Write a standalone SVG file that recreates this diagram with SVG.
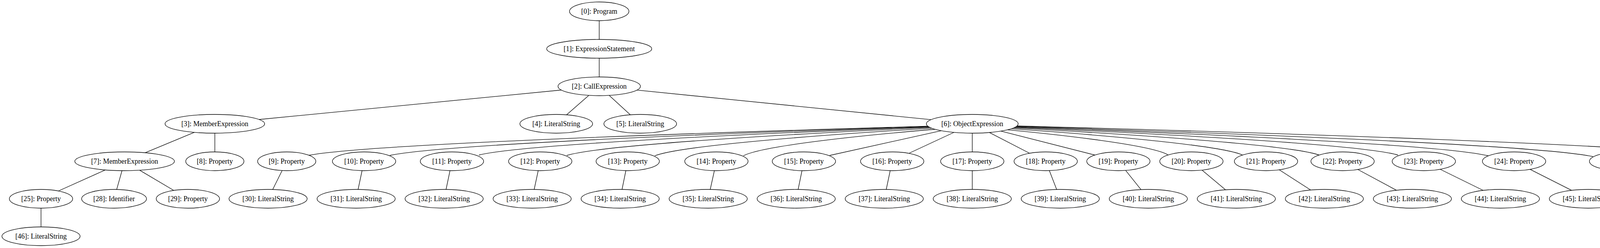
<svg xmlns="http://www.w3.org/2000/svg" width="4624" height="635" viewBox="0 0 4624 635">
<style>
.n ellipse{fill:none;stroke:#000;stroke-width:1.33}
.n text{font-family:"Liberation Serif","Times New Roman",serif;font-size:18px;fill:#000;text-anchor:middle}
#edges path{fill:none;stroke:#000;stroke-width:1.33}
</style>
<rect width="4624" height="635" fill="#fff"/>
<g id="edges">
<path d="M1534,53L1534,101"/>
<path d="M1534,149L1534,197"/>
<path d="M1437.1,230.5L663.2,306"/>
<path d="M1507.4,244.2L1450.4,294"/>
<path d="M1559.5,244.3L1613.7,293.9"/>
<path d="M1630.5,230.7L2383.6,306.4"/>
<path d="M497.4,338.9L371.6,391.1"/>
<path d="M550,341L550,389"/>
<path d="M269.7,435.1L149.6,489"/>
<path d="M312.3,437L298.7,485.1"/>
<path d="M357.6,435.9L444.8,487.5"/>
<path d="M105,533L105,581"/>
<path d="M2376,323.2C1853,338.1 949.5,367.8 791,397.5"/>
<path d="M2377,323.9C1922,338.7 1135.9,368.4 998,398"/>
<path d="M2379,325C1998.5,339.4 1341.3,368.2 1226,397"/>
<path d="M2381,326.4C2074.1,340.7 1544,369.4 1451,398"/>
<path d="M2386,328.3C2151.7,342.4 1747,370.7 1676,399"/>
<path d="M2394,331C2232,344.6 1952.1,371.8 1903,399"/>
<path d="M2410,334.6L2124,398"/>
<path d="M2442,339L2328,392"/>
<path d="M2489,341L2489,389"/>
<path d="M2533,339.3L2635,392"/>
<path d="M2562,335.7L2803,397"/>
<path d="M2579,332.4C2715,345.3 2949.8,371.2 2991,397"/>
<path d="M2588,329.7C2783.7,343.2 3121.7,370.1 3181,397"/>
<path d="M2594,327.6C2852.4,341.5 3298.7,369.2 3377,397"/>
<path d="M2597,326C2921.1,340.2 3480.8,368.6 3579,397"/>
<path d="M2600,324.7C2999.3,339.6 3689,369.3 3810,399"/>
<path d="M2602,323.5C3089.1,339 3930.4,370 4078,401"/>
<path d="M2603,322.4C3209.9,338.7 4258.1,371.4 4442,404"/>
<path d="M722.2,436.7L698.1,485.2"/>
<path d="M926.9,437L916.7,485"/>
<path d="M1152,437L1141.9,485"/>
<path d="M1377.8,437L1367.5,485"/>
<path d="M1602.2,437L1592.4,485"/>
<path d="M1828.8,437L1818.2,485"/>
<path d="M2053.1,437L2043.2,485"/>
<path d="M2278.9,437L2268.8,485"/>
<path d="M2489,437L2489,485"/>
<path d="M2686.3,436.8L2705,485.1"/>
<path d="M2881.7,436.4L2920.9,485.4"/>
<path d="M3077.1,435.6L3137.4,485.9"/>
<path d="M3274.9,434.8L3355.3,486.5"/>
<path d="M3476.1,434L3574.8,487.1"/>
<path d="M3686.9,433.5L3797,487.5"/>
<path d="M3917,433.7L4023.3,487.3"/>
<path d="M4182.4,435L4258.2,486.4"/>
<path d="M4517,437L4517,485"/>
</g>
<g id="node0" class="n"><ellipse cx="1534" cy="29" rx="76" ry="24"/><text x="1534" y="34.5">[0]: Program</text></g>
<g id="node1" class="n"><ellipse cx="1534" cy="125" rx="134.5" ry="24"/><text x="1534" y="130.5">[1]: ExpressionStatement</text></g>
<g id="node2" class="n"><ellipse cx="1534" cy="221" rx="105.5" ry="24"/><text x="1534" y="226.5">[2]: CallExpression</text></g>
<g id="node3" class="n"><ellipse cx="550" cy="317" rx="127.5" ry="24"/><text x="550" y="322.5">[3]: MemberExpression</text></g>
<g id="node4" class="n"><ellipse cx="1424" cy="317" rx="93" ry="24"/><text x="1424" y="322.5">[4]: LiteralString</text></g>
<g id="node5" class="n"><ellipse cx="1639" cy="317" rx="93" ry="24"/><text x="1639" y="322.5">[5]: LiteralString</text></g>
<g id="node6" class="n"><ellipse cx="2489" cy="317" rx="117.5" ry="24"/><text x="2489" y="322.5">[6]: ObjectExpression</text></g>
<g id="node7" class="n"><ellipse cx="319" cy="413" rx="127.5" ry="24"/><text x="319" y="418.5">[7]: MemberExpression</text></g>
<g id="node8" class="n"><ellipse cx="550" cy="413" rx="74.5" ry="24"/><text x="550" y="418.5">[8]: Property</text></g>
<g id="node9" class="n"><ellipse cx="734" cy="413" rx="74.5" ry="24"/><text x="734" y="418.5">[9]: Property</text></g>
<g id="node10" class="n"><ellipse cx="932" cy="413" rx="81" ry="24"/><text x="932" y="418.5">[10]: Property</text></g>
<g id="node11" class="n"><ellipse cx="1157" cy="413" rx="81" ry="24"/><text x="1157" y="418.5">[11]: Property</text></g>
<g id="node12" class="n"><ellipse cx="1383" cy="413" rx="81" ry="24"/><text x="1383" y="418.5">[12]: Property</text></g>
<g id="node13" class="n"><ellipse cx="1607" cy="413" rx="81" ry="24"/><text x="1607" y="418.5">[13]: Property</text></g>
<g id="node14" class="n"><ellipse cx="1834" cy="413" rx="81" ry="24"/><text x="1834" y="418.5">[14]: Property</text></g>
<g id="node15" class="n"><ellipse cx="2058" cy="413" rx="81" ry="24"/><text x="2058" y="418.5">[15]: Property</text></g>
<g id="node16" class="n"><ellipse cx="2284" cy="413" rx="81" ry="24"/><text x="2284" y="418.5">[16]: Property</text></g>
<g id="node17" class="n"><ellipse cx="2489" cy="413" rx="81" ry="24"/><text x="2489" y="418.5">[17]: Property</text></g>
<g id="node18" class="n"><ellipse cx="2677" cy="413" rx="81" ry="24"/><text x="2677" y="418.5">[18]: Property</text></g>
<g id="node19" class="n"><ellipse cx="2863" cy="413" rx="81" ry="24"/><text x="2863" y="418.5">[19]: Property</text></g>
<g id="node20" class="n"><ellipse cx="3050" cy="413" rx="81" ry="24"/><text x="3050" y="418.5">[20]: Property</text></g>
<g id="node21" class="n"><ellipse cx="3241" cy="413" rx="81" ry="24"/><text x="3241" y="418.5">[21]: Property</text></g>
<g id="node22" class="n"><ellipse cx="3437" cy="413" rx="81" ry="24"/><text x="3437" y="418.5">[22]: Property</text></g>
<g id="node23" class="n"><ellipse cx="3645" cy="413" rx="81" ry="24"/><text x="3645" y="418.5">[23]: Property</text></g>
<g id="node24" class="n"><ellipse cx="3876" cy="413" rx="81" ry="24"/><text x="3876" y="418.5">[24]: Property</text></g>
<g id="node26" class="n"><ellipse cx="4150" cy="413" rx="81" ry="24"/><text x="4150" y="418.5">[26]: Property</text></g>
<g id="node27" class="n"><ellipse cx="4517" cy="413" rx="81" ry="24"/><text x="4517" y="418.5">[27]: Property</text></g>
<g id="node25" class="n"><ellipse cx="105" cy="509" rx="81" ry="24"/><text x="105" y="514.5">[25]: Property</text></g>
<g id="node28" class="n"><ellipse cx="292" cy="509" rx="83" ry="24"/><text x="292" y="514.5">[28]: Identifier</text></g>
<g id="node29" class="n"><ellipse cx="481" cy="509" rx="81" ry="24"/><text x="481" y="514.5">[29]: Property</text></g>
<g id="node30" class="n"><ellipse cx="686.3" cy="509" rx="100" ry="24"/><text x="686.3" y="514.5">[30]: LiteralString</text></g>
<g id="node31" class="n"><ellipse cx="911.7" cy="509" rx="100" ry="24"/><text x="911.7" y="514.5">[31]: LiteralString</text></g>
<g id="node32" class="n"><ellipse cx="1137" cy="509" rx="100" ry="24"/><text x="1137" y="514.5">[32]: LiteralString</text></g>
<g id="node33" class="n"><ellipse cx="1362.3" cy="509" rx="100" ry="24"/><text x="1362.3" y="514.5">[33]: LiteralString</text></g>
<g id="node34" class="n"><ellipse cx="1587.6" cy="509" rx="100" ry="24"/><text x="1587.6" y="514.5">[34]: LiteralString</text></g>
<g id="node35" class="n"><ellipse cx="1813" cy="509" rx="100" ry="24"/><text x="1813" y="514.5">[35]: LiteralString</text></g>
<g id="node36" class="n"><ellipse cx="2038.3" cy="509" rx="100" ry="24"/><text x="2038.3" y="514.5">[36]: LiteralString</text></g>
<g id="node37" class="n"><ellipse cx="2263.7" cy="509" rx="100" ry="24"/><text x="2263.7" y="514.5">[37]: LiteralString</text></g>
<g id="node38" class="n"><ellipse cx="2489" cy="509" rx="100" ry="24"/><text x="2489" y="514.5">[38]: LiteralString</text></g>
<g id="node39" class="n"><ellipse cx="2714.3" cy="509" rx="100" ry="24"/><text x="2714.3" y="514.5">[39]: LiteralString</text></g>
<g id="node40" class="n"><ellipse cx="2939.7" cy="509" rx="100" ry="24"/><text x="2939.7" y="514.5">[40]: LiteralString</text></g>
<g id="node41" class="n"><ellipse cx="3165" cy="509" rx="100" ry="24"/><text x="3165" y="514.5">[41]: LiteralString</text></g>
<g id="node42" class="n"><ellipse cx="3390.3" cy="509" rx="100" ry="24"/><text x="3390.3" y="514.5">[42]: LiteralString</text></g>
<g id="node43" class="n"><ellipse cx="3615.7" cy="509" rx="100" ry="24"/><text x="3615.7" y="514.5">[43]: LiteralString</text></g>
<g id="node44" class="n"><ellipse cx="3841" cy="509" rx="100" ry="24"/><text x="3841" y="514.5">[44]: LiteralString</text></g>
<g id="node45" class="n"><ellipse cx="4066.3" cy="509" rx="100" ry="24"/><text x="4066.3" y="514.5">[45]: LiteralString</text></g>
<g id="node47" class="n"><ellipse cx="4291.7" cy="509" rx="100" ry="24"/><text x="4291.7" y="514.5">[47]: LiteralString</text></g>
<g id="node48" class="n"><ellipse cx="4517" cy="509" rx="100" ry="24"/><text x="4517" y="514.5">[48]: LiteralString</text></g>
<g id="node46" class="n"><ellipse cx="105" cy="605" rx="100" ry="24"/><text x="105" y="610.5">[46]: LiteralString</text></g>
</svg>
